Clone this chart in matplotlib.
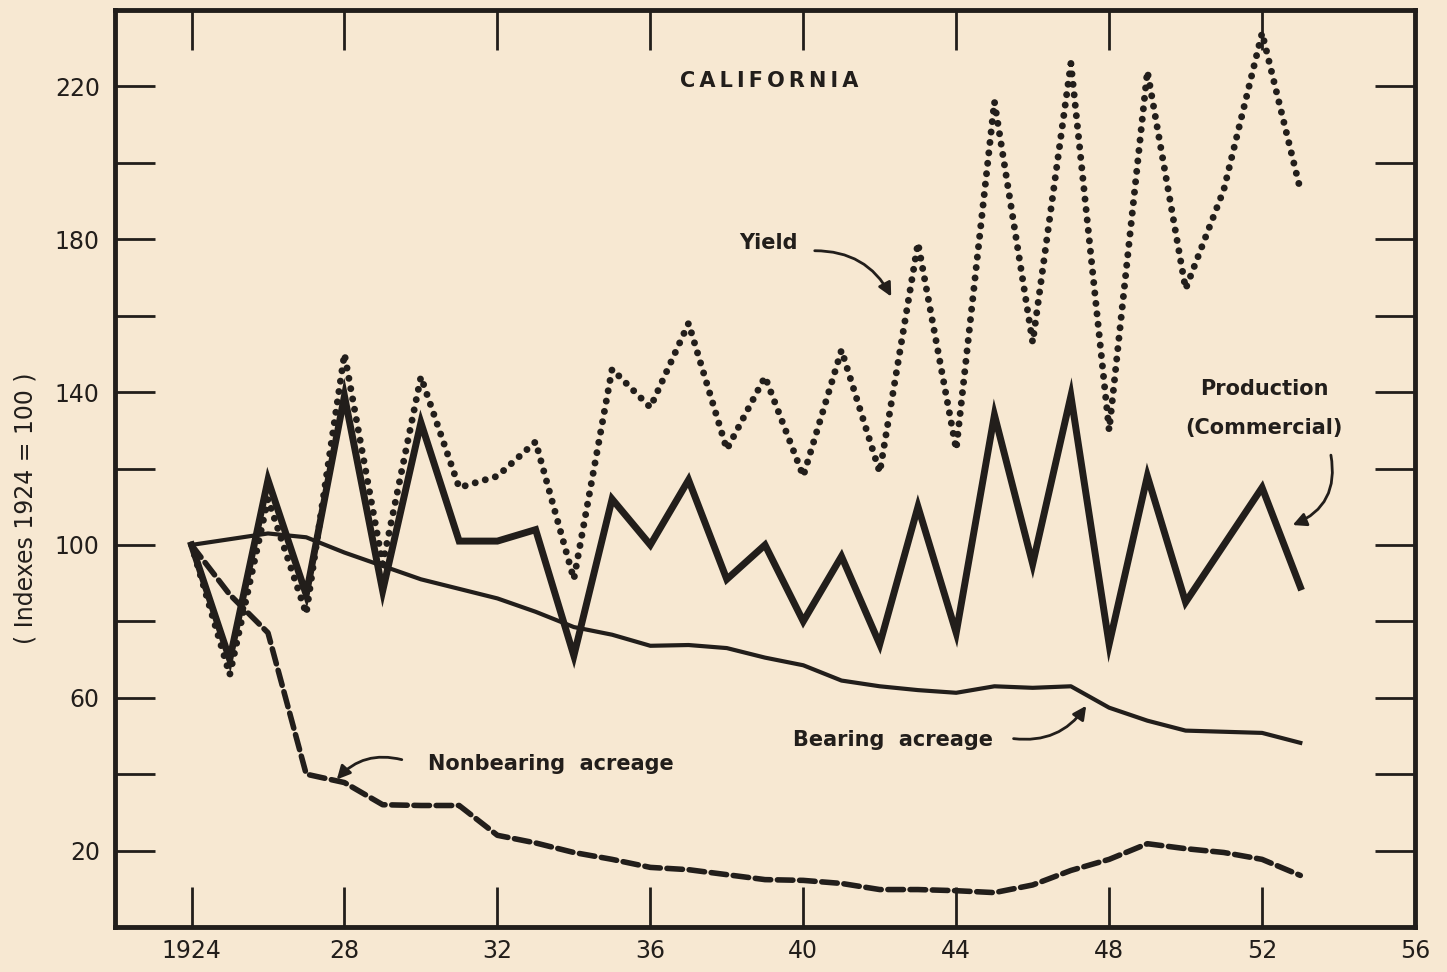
import numpy as np
import matplotlib.pyplot as plt

### Data (indexes, 1924 = 100)
years = list(range(1924, 1954))

production = [100, 70, 117, 87, 139, 88, 132, 101, 101, 104,
              71, 112, 100, 117, 91, 100, 80, 97, 74, 110,
              77, 134, 95, 139, 74, 118, 85, 100, 115, 89]

yield_idx = [100, 66, 112, 82, 150, 95, 144, 115, 118, 127,
             91, 146, 136, 158, 125, 144, 118, 151, 119, 179,
             125, 216, 153, 226, 130, 224, 167, 193, 234, 193]

bearing = [100, 101.5, 103, 102, 98, 94.5, 91, 88.5, 86, 82.5,
           78.5, 76.5, 73.6, 73.8, 73, 70.5, 68.5, 64.5, 63, 62,
           61.3, 63, 62.6, 63, 57.4, 54, 51.4, 51.1, 50.8, 48.2]

nonbearing = [100, 87, 77, 40, 37.8, 32, 31.8, 31.8, 24, 22,
              19.5, 17.7, 15.6, 15, 13.7, 12.4, 12.2, 11.4, 9.8, 9.8,
              9.5, 9.0, 11, 14.8, 17.7, 21.8, 20.5, 19.5, 17.7, 13.5]

xticks = [1924, 1928, 1932, 1936, 1940, 1944, 1948, 1952, 1956]
xticklabels = ['1924', '28', '32', '36', '40', '44', '48', '52', '56']
yticks = [20, 40, 60, 80, 100, 120, 140, 160, 180, 200, 220]
yticklabels = ['20', '', '60', '', '100', '', '140', '', '180', '', '220']

### Style
paper = '#F7E8D2'
ink = '#221E1B'
plt.rcParams['font.family'] = ['DejaVu Sans']

fig = plt.figure(figsize=(14.47, 9.72), dpi=100, facecolor=paper)
ax = fig.add_axes([0.0795, 0.0463, 0.8984, 0.9434], facecolor=paper)

# Series
ax.plot(years, production, color=ink, lw=5, solid_joinstyle='miter', zorder=4)
ax.plot(years, bearing, color=ink, lw=3, solid_joinstyle='round', zorder=3)
ax.plot(years, nonbearing, color=ink, lw=4, linestyle=(0, (2.8, 1.2)),
        dash_capstyle='round', zorder=3)
ax.plot(years, yield_idx, color=ink, lw=5, linestyle=(0, (0.01, 1.5)),
        dash_capstyle='round', zorder=5)

### Axes
ax.set_xlim(1922, 1956)
ax.set_ylim(0, 240)
for s in ax.spines.values():
    s.set_linewidth(3.5)
    s.set_color(ink)

ax.set_xticks(xticks)
ax.set_xticklabels(xticklabels)
ax.set_yticks(yticks)
ax.set_yticklabels(yticklabels)
ax.tick_params(axis='both', direction='in', length=29, width=2, color=ink,
               top=True, right=True, labelsize=17, labelcolor=ink)
ax.tick_params(axis='x', pad=9)
ax.tick_params(axis='y', pad=11)

fig.text(26 / 1447, 1 - 508 / 972, '( Indexes 1924 = 100 )', rotation=90,
         ha='center', va='center', fontsize=17, color=ink)

### Labels
txt = dict(color=ink, fontsize=15, ha='center', va='center', fontweight='bold')
ax.text(1939.1, 221.5, 'C A L I F O R N I A'.replace(' ', '\u2009'), **txt)
ax.text(1939.1, 179, 'Yield', **txt)
ax.text(1952.05, 140.8, 'Production', **txt)
ax.text(1952.05, 130.6, '(Commercial)', **txt)
ax.text(1942.35, 49, 'Bearing  acreage', **txt)
ax.text(1933.4, 42.7, 'Nonbearing  acreage', **txt)

arrow = dict(arrowstyle='-|>', color=ink, lw=2, mutation_scale=20,
             shrinkA=0, shrinkB=0)
ax.annotate('', xy=(1942.3, 165), xytext=(1940.3, 177),
            arrowprops=dict(arrow, connectionstyle='arc3,rad=-0.3'))
ax.annotate('', xy=(1952.8, 105.2), xytext=(1953.8, 123.5),
            arrowprops=dict(arrow, connectionstyle='arc3,rad=-0.4'))
ax.annotate('', xy=(1947.4, 57.9), xytext=(1945.5, 49.3),
            arrowprops=dict(arrow, connectionstyle='arc3,rad=0.3'))
ax.annotate('', xy=(1927.8, 38.6), xytext=(1929.5, 43.8),
            arrowprops=dict(arrow, connectionstyle='arc3,rad=0.3'))

fig.savefig('out.png', dpi=100, facecolor=paper)
